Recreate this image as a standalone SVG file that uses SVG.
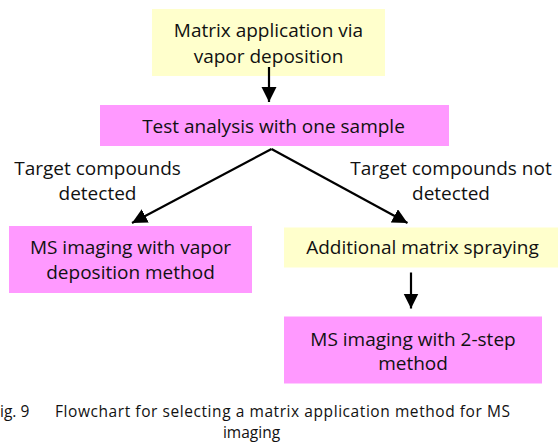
<svg xmlns="http://www.w3.org/2000/svg" width="558" height="443" viewBox="0 0 558 443">
  <style>
    text { font-family: "Open Sans", "Liberation Sans", sans-serif; fill: #111; }
    .t { font-size: 19px; text-anchor: middle; }
    .cap { font-size: 15.5px; }
    .yellow { fill: #FFFFCC; }
    .pink { fill: #FF99FF; }
    .conn { stroke: #000; stroke-width: 2.2; fill: none; }
  </style>
  <defs>
    <marker id="arr" markerUnits="userSpaceOnUse" markerWidth="16" markerHeight="16" refX="15" refY="7.5" orient="auto">
      <path d="M0,0 L15,7.5 L0,15 z" fill="#000"/>
    </marker>
  </defs>
  <rect width="558" height="443" fill="#fff"/>

  <g id="node-matrix-vapor">
    <rect class="yellow" x="152" y="9" width="233" height="67"/>
    <text class="t" x="268.5" y="37">Matrix application via</text>
    <text class="t" x="268.5" y="63">vapor deposition</text>
  </g>
  <g id="node-test">
    <rect class="pink" x="100" y="105" width="349" height="41"/>
    <text class="t" x="273.5" y="132.5">Test analysis with one sample</text>
  </g>
  <g id="node-ms-vapor">
    <rect class="pink" x="9" y="226" width="243" height="67"/>
    <text class="t" x="130.5" y="253.5">MS imaging with vapor</text>
    <text class="t" x="130.5" y="278.5">deposition method</text>
  </g>
  <g id="node-spraying">
    <rect class="yellow" x="284" y="227.5" width="274" height="40"/>
    <text class="t" x="422.5" y="254">Additional matrix spraying</text>
  </g>
  <g id="node-ms-2step">
    <rect class="pink" x="284" y="316.5" width="258" height="67"/>
    <text class="t" x="413" y="346">MS imaging with 2-step</text>
    <text class="t" x="413" y="370">method</text>
  </g>

  <g id="connectors">
    <line class="conn" x1="269" y1="67" x2="269" y2="102" stroke-width="2.6" marker-end="url(#arr)"/>
    <line class="conn" x1="271.5" y1="149" x2="132" y2="223" marker-end="url(#arr)"/>
    <line class="conn" x1="271.5" y1="149" x2="407.5" y2="223" marker-end="url(#arr)"/>
    <line class="conn" x1="411" y1="272.5" x2="411" y2="308.5" stroke-width="2.6" marker-end="url(#arr)"/>
  </g>

  <g id="labels">
    <text class="t" x="97.5" y="175">Target compounds</text>
    <text class="t" x="97.5" y="200">detected</text>
    <text class="t" x="451" y="175">Target compounds not</text>
    <text class="t" x="451" y="200">detected</text>
  </g>

  <g id="caption">
    <text class="cap" x="0" y="417">ig. 9</text>
    <text class="cap" x="55" y="417" textLength="455" lengthAdjust="spacing">Flowchart for selecting a matrix application method for MS</text>
    <text class="cap" x="251.5" y="438" text-anchor="middle">imaging</text>
  </g>
</svg>
